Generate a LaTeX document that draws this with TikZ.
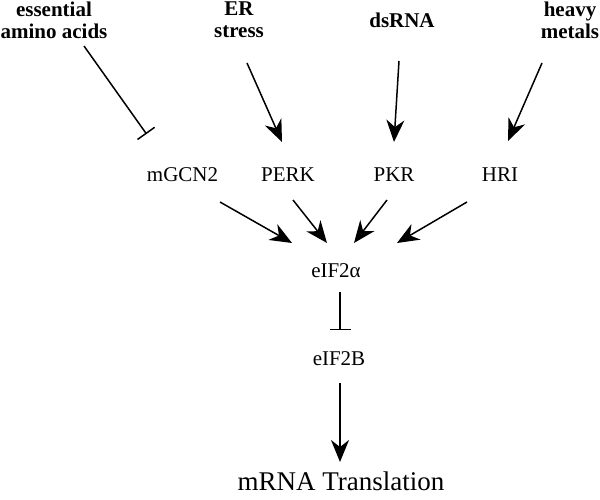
\documentclass[tikz,border=0pt]{standalone}
\usepackage{fontspec}
\setmainfont{Liberation Serif}
\usetikzlibrary{arrows.meta}
\begin{document}
\begin{tikzpicture}[x=1pt,y=-1pt,
  src/.style={font=\fontsize{21}{22}\selectfont\bfseries, align=center, inner sep=0pt},
  lbl/.style={font=\fontsize{21}{22}\selectfont, inner sep=0pt, anchor=base},
  big/.style={font=\fontsize{27}{28}\selectfont, inner sep=0pt, anchor=base},
  act/.style={line width=1.5pt, -{Stealth[length=22pt,width=18pt,inset=7pt]}},
  inh/.style={line width=1.5pt, -{Bar[width=21pt,line width=1.5pt]}}]
\useasboundingbox (0,0) rectangle (600,500);

% source labels
\node[src] (eaa) at (54,20) {essential\\amino acids};
\node[src] (er) at (239,20) {ER\\stress};
\node[src] (ds) at (402,20) {dsRNA};
\node[src] (hm) at (570,20) {heavy\\metals};

% kinases
\node[lbl] (gcn) at (182.5,182) {mGCN2};
\node[lbl] (perk) at (288,182) {PERK};
\node[lbl] (pkr) at (394,182) {PKR};
\node[lbl] (hri) at (500,182) {HRI};

\node[lbl] (eif) at (336,277) {eIF2α};
\node[lbl] (eifb) at (339,365) {eIF2B};
\node[big] (mrna) at (341,490) {mRNA Translation};

% connector end points
\coordinate (eaaS) at (84,46);   \coordinate (eaaE) at (146.5,134);
\coordinate (erS) at (247,63);   \coordinate (erE) at (282,142);
\coordinate (dsS) at (399,61);   \coordinate (dsE) at (394,142);
\coordinate (hmS) at (542,63);   \coordinate (hmE) at (508,141);
\coordinate (gcnS) at (220,202); \coordinate (gcnE) at (292,243);
\coordinate (perkS) at (293,200);\coordinate (perkE) at (327,243);
\coordinate (pkrS) at (387,200); \coordinate (pkrE) at (354,243);
\coordinate (hriS) at (467,202); \coordinate (hriE) at (397,243);
\coordinate (eifS) at (340,292); \coordinate (eifE) at (340,330);
\coordinate (eifbS) at (340,383);\coordinate (eifbE) at (340,462);

\draw[inh] (eaaS) -- (eaaE);
\draw[act] (erS) -- (erE);
\draw[act] (dsS) -- (dsE);
\draw[act] (hmS) -- (hmE);
\draw[act] (gcnS) -- (gcnE);
\draw[act] (perkS) -- (perkE);
\draw[act] (pkrS) -- (pkrE);
\draw[act] (hriS) -- (hriE);
\draw[inh] (eifS) -- (eifE);
\draw[act] (eifbS) -- (eifbE);
\end{tikzpicture}
\end{document}
